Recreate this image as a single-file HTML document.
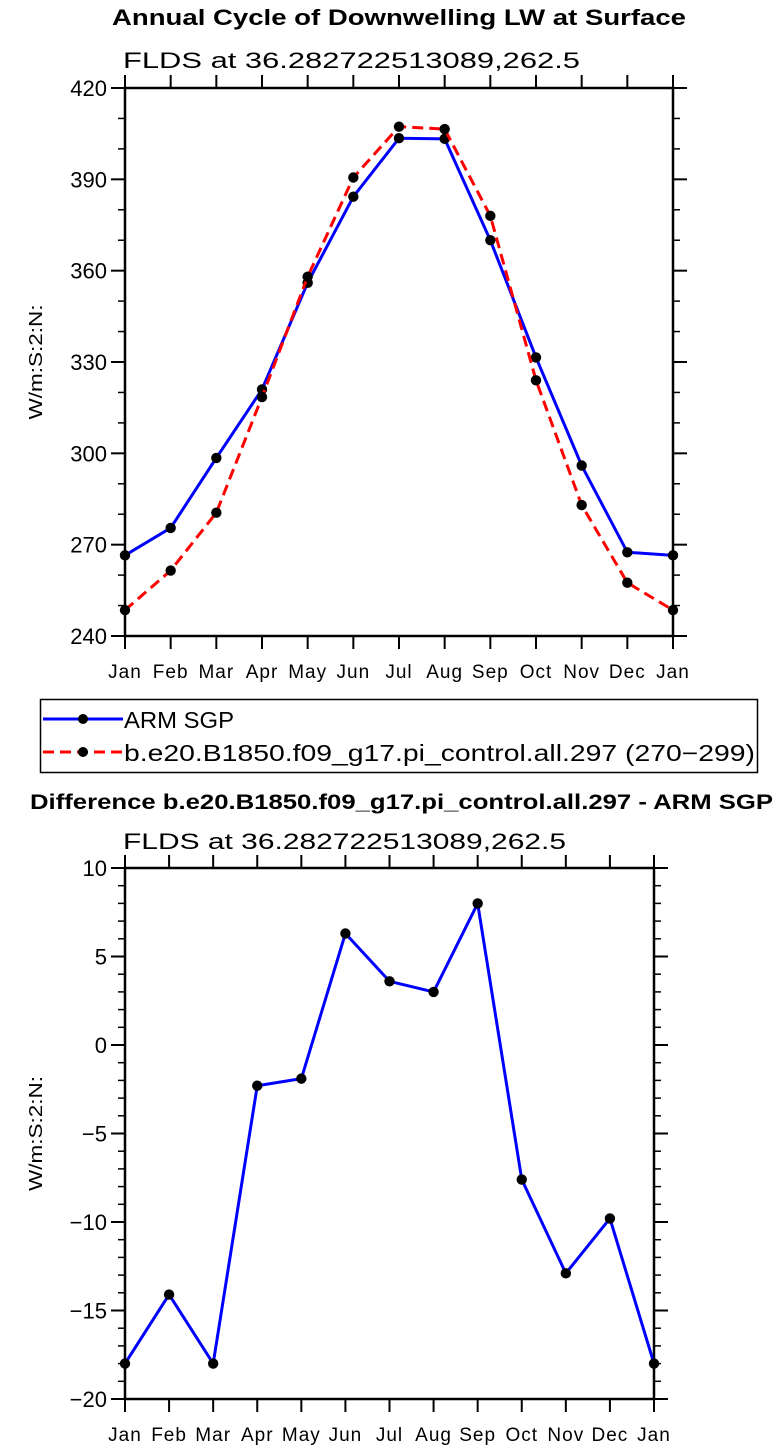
<!DOCTYPE html>
<html><head><meta charset="utf-8"><style>
html,body{margin:0;padding:0;background:#fff;}
svg{display:block;font-family:"Liberation Sans",sans-serif;}
</style></head><body>
<svg id="chart" width="778" height="1449" viewBox="0 0 778 1449" xmlns="http://www.w3.org/2000/svg">
<text x="112" y="25" textLength="574" lengthAdjust="spacingAndGlyphs" font-weight="bold" font-size="22">Annual Cycle of Downwelling LW at Surface</text>
<text x="123" y="68" textLength="457" lengthAdjust="spacingAndGlyphs" font-size="22">FLDS at 36.282722513089,262.5</text>
<text x="30" y="809" textLength="743" lengthAdjust="spacingAndGlyphs" font-weight="bold" font-size="21">Difference b.e20.B1850.f09_g17.pi_control.all.297 - ARM SGP</text>
<text x="123" y="849" textLength="443" lengthAdjust="spacingAndGlyphs" font-size="22">FLDS at 36.282722513089,262.5</text>
<g id="top"></g>
<g id="bot"></g>
<g>
<rect x="40.5" y="699.5" width="717" height="73" fill="none" stroke="#000" stroke-width="1.5"/>
<g>
<line x1="43" y1="719" x2="123" y2="719" stroke="#00f" stroke-width="3"/>
<circle cx="83" cy="719" r="5" fill="#000"/>
<text x="124" y="728" font-size="23" textLength="110" lengthAdjust="spacingAndGlyphs">ARM SGP</text>
</g>
<g>
<line x1="43" y1="752" x2="123" y2="752" stroke="#f00" stroke-width="3" stroke-dasharray="11,6"/>
<circle cx="83" cy="752" r="5" fill="#000"/>
<text x="124" y="761" font-size="23" textLength="631" lengthAdjust="spacingAndGlyphs">b.e20.B1850.f09_g17.pi_control.all.297 (270−299)</text>
</g>
</g>
</svg>
<script>
const months = ["Jan","Feb","Mar","Apr","May","Jun","Jul","Aug","Sep","Oct","Nov","Dec","Jan"];
const armValues = [266.5,275.5,298.5,321,356,384.3,403.5,403.3,370,331.5,296,267.5,266.5];
const modelValues = [248.5,261.5,280.5,318.5,358,390.6,407.3,406.5,378,324,283,257.5,248.5];
const diffValues = [-18,-14.1,-18,-2.3,-1.9,6.3,3.6,3.0,8.0,-7.6,-12.9,-9.8,-18];
const topTicks = [240,270,300,330,360,390,420];
const botTicks = [-20,-15,-10,-5,0,5,10];
const NS="http://www.w3.org/2000/svg";
function mk(tag,attrs,parent){const e=document.createElementNS(NS,tag);for(const k in attrs)e.setAttribute(k,attrs[k]);parent.appendChild(e);return e;}
function drawPanel(g,L,R,T,B,ymin,ymax,ticks,minorStep,series,prefix){
  const xs=i=>L+(R-L)*i/(months.length-1);
  const ys=v=>B-(v-ymin)/(ymax-ymin)*(B-T);
  for(let v=ymin;v<=ymax+1e-9;v+=minorStep){
    if(ticks.some(t=>Math.abs(t-v)<1e-9))continue;
    const y=ys(v);
    const a=mk('line',{x1:L-7,y1:y,x2:L,y2:y,stroke:'#000','stroke-width':1.5},g);
    
    
    const b=mk('line',{x1:R,y1:y,x2:R+7,y2:y,stroke:'#000','stroke-width':1.5},g);
    
    
  }
  ticks.forEach(v=>{
    const y=ys(v);
    const a=mk('line',{x1:L-14,y1:y,x2:L,y2:y,stroke:'#000','stroke-width':2},g);
    
    
    const b=mk('line',{x1:R,y1:y,x2:R+14,y2:y,stroke:'#000','stroke-width':2},g);
    
    
    const t=mk('text',{x:L-18,y:y+8,'text-anchor':'end','font-size':22},g);
    t.textContent=String(v).replace('-','−');
    
    
  });
  months.forEach((m,i)=>{
    const x=xs(i);
    const a=mk('line',{x1:x,y1:B,x2:x,y2:B+13,stroke:'#000','stroke-width':2},g);
    
    
    const b=mk('line',{x1:x,y1:T-13,x2:x,y2:T,stroke:'#000','stroke-width':2},g);
    
    
    const t=mk('text',{x:x,y:B+42,'text-anchor':'middle','font-size':19,'letter-spacing':1},g);
    t.textContent=m;
    
    
  });
  const fr=mk('rect',{x:L,y:T,width:R-L,height:B-T,fill:'none',stroke:'#000','stroke-width':2.5},g);
  
  
  const yt=mk('text',{x:0,y:0,'text-anchor':'middle','font-size':18,textLength:115,lengthAdjust:'spacingAndGlyphs',transform:`translate(42,${(T+B)/2}) rotate(-90)`},g);
  yt.textContent='W/m:S:2:N:';
  
  
  series.forEach(s=>{
    const pts=s.values.map((v,i)=>xs(i)+','+ys(v)).join(' ');
    const pl=mk('polyline',{points:pts,fill:'none',stroke:s.color,'stroke-width':3,'stroke-dasharray':s.dash||'none','stroke-linejoin':'round'},g);
    
    
    s.values.forEach((v,i)=>{
      const c=mk('circle',{cx:xs(i),cy:ys(v),r:5.2,fill:'#000'},g);
      
      
    });
  });
}
drawPanel(document.getElementById('top'),125,673,88,636,240,420,topTicks,10,
  [{name:'arm-sgp',values:armValues,color:'#00f'},{name:'model',values:modelValues,color:'#f00',dash:'11,6'}],'top');
drawPanel(document.getElementById('bot'),125,654,868,1399,-20,10,botTicks,1,
  [{name:'difference',values:diffValues,color:'#00f'}],'bottom');
</script>
</body></html>
